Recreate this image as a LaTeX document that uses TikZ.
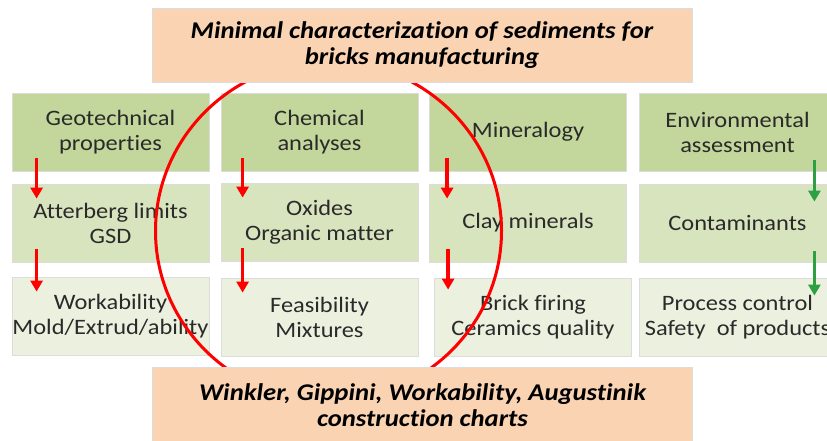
\documentclass[tikz,border=0pt]{standalone}
\usepackage{fontspec}
\setmainfont{Carlito}[FakeStretch=1.11, Ligatures=NoCommon]
\usepackage{xcolor}
\usetikzlibrary{arrows.meta, positioning}
\definecolor{peche}{HTML}{FAD3B3}
\definecolor{vertfonce}{HTML}{C3D69B}
\definecolor{vertmoyen}{HTML}{D7E4BD}
\definecolor{vertclair}{HTML}{EBF0DF}
\definecolor{rouge}{HTML}{FF0000}
\definecolor{vert}{HTML}{2EA043}
\definecolor{bordure}{HTML}{DCDCDC}
\definecolor{encre}{HTML}{2A2A2A}
\tikzset{
  bloc/.style={rectangle, draw=bordure, line width=0.8pt, minimum width=197pt,
    minimum height=78pt, inner sep=0pt, align=center, text=encre,
    font=\fontsize{22}{25}\selectfont},
  haut/.style={bloc, fill=vertfonce},
  milieu/.style={bloc, fill=vertmoyen},
  bas/.style={bloc, fill=vertclair},
  titre/.style={rectangle, draw=bordure, line width=0.8pt, fill=peche,
    minimum width=540pt, minimum height=74pt, inner sep=0pt, align=center,
    font=\fontsize{24}{26.5}\selectfont\bfseries\itshape},
  fleche/.style={-{Triangle[length=11pt, width=12pt]}, line width=3.5pt, color=rouge},
  flecheverte/.style={fleche, line width=3pt, color=vert}
}

\begin{document}
\begin{tikzpicture}[x=1pt, y=-1pt]
    \useasboundingbox (0,0) rectangle (827,441);
    \clip (0,0) rectangle (827,441);

    % Premiere ligne
    \node[haut] (geo) at (110.5,132) {Geotechnical\\properties};
    \node[haut] (chi) at (319.5,132) {Chemical\\analyses};
    \node[haut] (min) at (528,132)   {Mineralogy};
    \node[haut] (env) at (737.5,132) {Environmental\\assessment};

    % Deuxieme ligne
    \node[milieu] (att) at (110.5,223) {Atterberg limits\\GSD};
    \node[milieu] (oxy) at (319.5,222) {Oxides\\Organic matter};
    \node[milieu] (arg) at (528,223)   {Clay minerals};
    \node[milieu] (con) at (737.5,223) {Contaminants};

    % Troisieme ligne
    \node[bas] (tra) at (110.5,316) {Workability\\Mold/Extrud/ability};
    \node[bas] (fai) at (319.5,317) {Feasibility\\Mixtures};
    \node[bas] (cui) at (533,317)   {Brick firing\\Ceramics quality};
    \node[bas] (pro) at (737.5,317) {Process control\\Safety~ of products};

    % Fleches
    \foreach \a/\b/\d in {geo/att/25, att/tra/25, chi/oxy/22, oxy/fai/22, min/arg/18} {
      \draw[fleche] ([xshift=\d pt, yshift=13pt]\a.south west)
        -- ([xshift=\d pt, yshift=-15pt]\b.north west);
    }
    \draw[fleche] ([xshift=19pt, yshift=13pt]arg.south west)
      -- ([xshift=14pt, yshift=-12pt]cui.north west);
    \foreach \a/\b in {env/con, con/pro} {
      \draw[flecheverte] ([xshift=-22pt, yshift=11pt]\a.south east)
        -- ([xshift=-22pt, yshift=-18pt]\b.north east);
    }

    % Cercle
    \draw[rouge, line width=3pt] (328.5,231) ellipse[x radius=173, y radius=170];

    % Cadres du haut et du bas
    \node[titre] (tete) at (422,45)
      {Minimal characterization of sediments for\\bricks manufacturing};
    \node[titre, minimum height=76pt] (pied) at (422.5,405)
      {Winkler, Gippini, Workability, Augustinik\\construction charts};
\end{tikzpicture}
\end{document}
